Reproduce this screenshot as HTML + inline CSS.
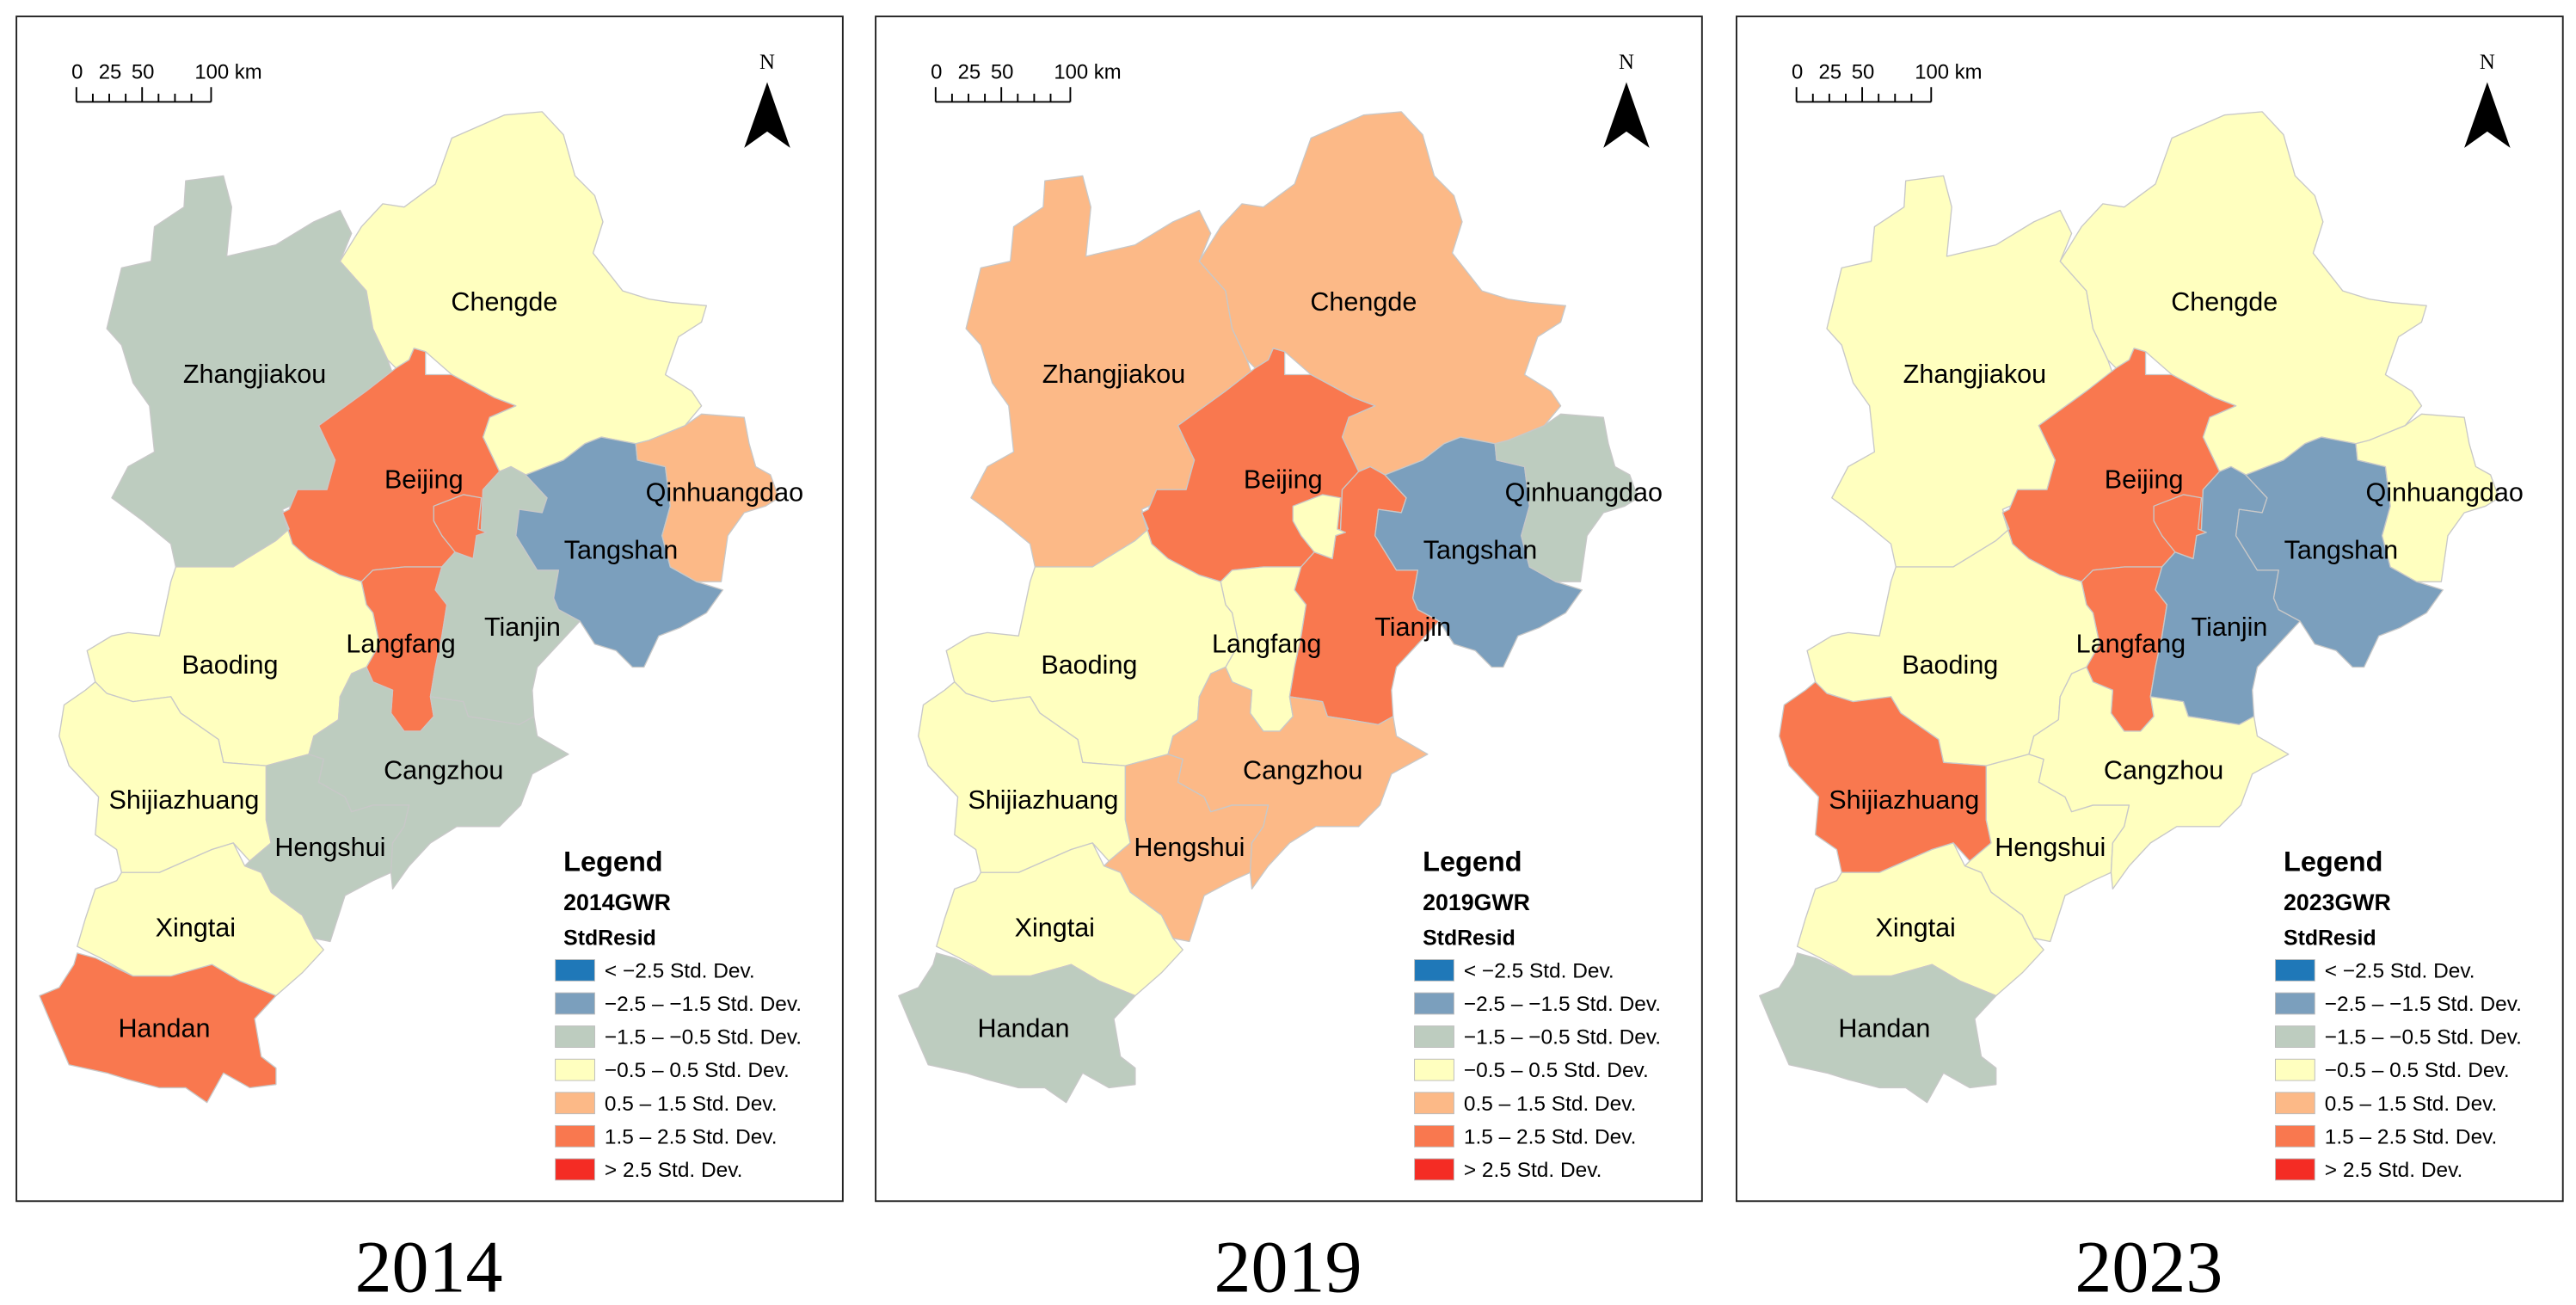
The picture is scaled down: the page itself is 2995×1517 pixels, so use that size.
<!DOCTYPE html>
<html><head><meta charset="utf-8">
<style>
html,body{margin:0;padding:0;background:#fff;}
svg{display:block;}
text{font-family:"Liberation Sans",sans-serif;}
text.serif{font-family:"Liberation Serif",serif;}
</style></head>
<body>
<svg id="fig" xmlns="http://www.w3.org/2000/svg" width="2995" height="1517" viewBox="0 0 1568 794.2">
<rect x="0" y="0" width="1568" height="794.2" fill="#fff"/>
</svg>
<script>
const years = ["2014", "2019", "2023"];
const regions = ["Zhangjiakou","Chengde","Beijing","Langfang","Tianjin","Tangshan","Qinhuangdao","Baoding","Shijiazhuang","Hengshui","Cangzhou","Xingtai","Handan","LangfangNorth"];
// class index 0..6 (<-2.5 ... >2.5)
const classes2014 = [2,3,5,5,2,1,4,3,3,2,2,3,5,5];
const classes2019 = [4,4,5,3,5,1,2,3,3,4,4,3,2,3];
const classes2023 = [3,3,5,5,1,1,3,3,5,3,3,3,2,5];
const classLabels = ["< \u22122.5 Std. Dev.","\u22122.5 \u2013 \u22121.5 Std. Dev.","\u22121.5 \u2013 \u22120.5 Std. Dev.","\u22120.5 \u2013 0.5 Std. Dev.","0.5 \u2013 1.5 Std. Dev.","1.5 \u2013 2.5 Std. Dev.","> 2.5 Std. Dev."];
const allClasses = [classes2014, classes2019, classes2023];

const palette = ["#1f78b8","#7b9fbd","#bdccbf","#ffffbf","#fcb987","#f9784f","#f42c24"];
const shapes = {
Zhangjiakou:[[113,110],[136,107],[141,126],[138,156],[168,149],[191,135],[207,128],[214,142],[207,159],[223,177],[227,200],[236,219],[241,233],[223,238],[194,259],[204,280],[199,298],[172,310],[176,322],[168,329],[142,345],[107,345],[104,331],[87,317],[68,303],[78,284],[94,275],[91,247],[81,233],[74,210],[65,200],[74,163],[92,159],[94,138],[112,126]],
Chengde:[[207,159],[220,138],[233,124],[246,126],[265,112],[275,84],[307,70],[330,68],[343,82],[350,107],[362,119],[367,135],[361,154],[379,177],[395,182],[408,184],[430,186],[427,196],[413,205],[405,228],[421,238],[427,247],[417,259],[395,268],[387,270],[366,266],[356,270],[343,280],[320,289],[311,284],[304,287],[294,266],[298,254],[314,247],[301,242],[275,228],[259,214],[252,212],[249,219],[241,224],[236,219],[227,200],[223,177]],
Beijing:[[241,224],[249,219],[252,212],[259,214],[259,228],[275,228],[301,242],[314,247],[298,254],[294,266],[304,287],[294,298],[293,322],[296,324],[290,326],[288,340],[277,336],[269,345],[246,345],[227,347],[220,354],[207,350],[188,340],[178,331],[172,312],[176,310],[181,298],[199,298],[204,280],[194,259],[223,238]],
Langfang:[[220,354],[227,347],[246,345],[269,345],[265,359],[272,368],[269,387],[265,406],[262,424],[264,436],[256,445],[246,445],[238,434],[239,420],[227,415],[223,406],[231,392],[227,373],[223,368]],
Tianjin:[[269,345],[277,336],[288,340],[290,326],[293,322],[294,298],[304,287],[311,284],[320,289],[333,303],[330,312],[316,310],[314,326],[327,347],[340,347],[337,364],[340,371],[353,378],[340,392],[327,406],[324,420],[325,436],[316,441],[298,438],[285,436],[282,427],[262,424],[265,406],[269,387],[272,368],[265,359]],
Tangshan:[[320,289],[343,280],[356,270],[366,266],[387,270],[388,280],[405,284],[408,308],[403,326],[408,345],[424,354],[440,359],[430,373],[414,382],[401,387],[392,406],[385,406],[375,396],[362,392],[353,378],[340,371],[337,364],[340,347],[327,347],[314,326],[316,310],[330,312],[333,303]],
Qinhuangdao:[[387,270],[395,268],[417,259],[427,252],[453,254],[456,270],[460,284],[469,289],[474,303],[466,308],[453,312],[443,326],[439,354],[424,354],[408,345],[403,326],[408,308],[405,284],[388,280]],
Baoding:[[107,345],[142,345],[168,329],[176,322],[172,312],[178,331],[188,340],[207,350],[220,354],[223,368],[227,373],[231,392],[223,406],[214,410],[207,424],[206,438],[191,448],[188,459],[162,466],[136,464],[133,450],[110,434],[104,424],[81,427],[65,422],[58,415],[53,396],[68,387],[78,385],[97,387],[100,373],[104,354]],
Shijiazhuang:[[58,415],[65,422],[81,427],[104,424],[110,434],[133,450],[136,464],[162,466],[162,499],[165,513],[152,524],[142,513],[129,517],[97,531],[74,531],[71,517],[58,508],[60,485],[42,466],[36,448],[39,429],[52,420]],
Hengshui:[[162,466],[188,459],[197,462],[194,476],[210,485],[214,494],[227,490],[249,490],[246,503],[239,513],[238,531],[227,536],[210,545],[201,573],[191,571],[184,557],[165,543],[159,531],[149,527],[152,524],[165,513],[162,499]],
Cangzhou:[[188,459],[191,448],[206,438],[207,424],[214,410],[223,406],[227,415],[239,420],[238,434],[246,445],[256,445],[264,436],[262,424],[282,427],[285,436],[298,438],[316,441],[325,436],[327,448],[346,459],[324,471],[317,490],[304,503],[278,503],[262,513],[249,527],[239,541],[238,531],[239,513],[246,503],[249,490],[227,490],[214,494],[210,485],[194,476],[197,462]],
Xingtai:[[74,531],[97,531],[129,517],[142,513],[149,527],[159,531],[165,543],[184,557],[191,571],[197,578],[184,592],[168,606],[146,597],[129,587],[104,594],[81,594],[61,583],[47,576],[52,559],[58,541],[71,536]],
Handan:[[47,580],[58,583],[81,594],[104,594],[129,587],[146,597],[168,606],[155,620],[159,643],[168,650],[168,660],[152,662],[136,653],[126,671],[113,662],[97,662],[78,657],[65,653],[42,648],[32,625],[24,606],[36,601],[45,587]],
LangfangNorth:[[264,308],[282,301],[293,303],[291,322],[296,324],[290,326],[288,340],[277,336],[269,326],[264,317]]
};
const labelPos = {
Chengde:[307,183],Zhangjiakou:[155,227],Beijing:[258,291],Qinhuangdao:[441,299],Tangshan:[378,334],
Baoding:[140,404],Cangzhou:[270,468],Shijiazhuang:[112,486],Hengshui:[201,515],Xingtai:[119,564],Handan:[100,625]
};
const tianjinX = [318,337,310];
const langfangX = [244,248,250];
const offsets = [0,523,1047];

const NS = "http://www.w3.org/2000/svg";
const svg = document.getElementById("fig");
function mk(tag, attrs, parent){
  const e = document.createElementNS(NS, tag);
  for (const k in attrs) e.setAttribute(k, attrs[k]);
  (parent||svg).appendChild(e);
  return e;
}
function label(g, txt, x, y, size, weight, anchor, serif){
  const t = mk("text", {x:x, y:y, "font-size":size, "font-weight":weight||"normal", "text-anchor":anchor||"middle", fill:"#000"}, g);
  if (serif) t.setAttribute("class", "serif");
  t.textContent = txt;
  return t;
}

years.forEach((yr, pi) => {
  const g = mk("g", {transform:"translate("+offsets[pi]+",0)"});
  
  
  const frame = mk("rect", {x:10, y:10, width:503, height:721, fill:"#fff", stroke:"#222", "stroke-width":1}, g);
  
  
  const cls = allClasses[pi];
  regions.forEach((r, ri) => {
    const p = mk("polygon", {points: shapes[r].map(q=>q.join(",")).join(" "), fill: palette[cls[ri]], stroke:"#c8c8c8", "stroke-width":0.7, "stroke-linejoin":"round"}, g);
    
    
  });
  for (const r in labelPos) {
    const t = label(g, r, labelPos[r][0], labelPos[r][1]+6, 16);
    
    
  }
  const tl = label(g, "Tianjin", tianjinX[pi], 387, 16);
  
  
  const ll = label(g, "Langfang", langfangX[pi], 397, 16);
  
  

  const sb = mk("g", {}, g);
  
  
  label(sb, "0", 47, 48, 12.5, "normal", "middle");
  label(sb, "25", 67, 48, 12.5, "normal", "middle");
  label(sb, "50", 87, 48, 12.5, "normal", "middle");
  label(sb, "100 km", 139, 48, 12.5, "normal", "middle");
  mk("line", {x1:46.5, y1:62, x2:128.5, y2:62, stroke:"#000", "stroke-width":1}, sb);
  [46.5,56.5,66.5,76.5,86.5,96.5,106.5,116.5,128.5].forEach((x,i)=>{
    mk("line", {x1:x, y1:(i==0||i==4||i==8)?53:57, x2:x, y2:62, stroke:"#000", "stroke-width":1}, sb);
  });
  const na = mk("g", {}, g);
  
  
  label(na, "N", 467, 42, 13, "normal", "middle", true);
  mk("polygon", {points:"467,50 453,90 467,80 481,90", fill:"#000"}, na);

  const lg = mk("g", {}, g);
  
  
  label(lg, "Legend", 343, 530, 17, "bold", "start");
  label(lg, yr + "GWR", 343, 554, 14, "bold", "start");
  label(lg, "StdResid", 343, 575, 13, "bold", "start");
  classLabels.forEach((c, ci) => {
    const y = 584 + ci*20.2;
    const sw = mk("rect", {x:338, y:y, width:24, height:13, fill:palette[ci], stroke:"#bbb", "stroke-width":0.5}, lg);
    
    
    const t = label(lg, c, 368, y+11, 12.8, "normal", "start");
    
    
  });

  const yt = label(g, yr, 261, 786, 45, "normal", "middle", true);
  
  
});
</script>
</body></html>
